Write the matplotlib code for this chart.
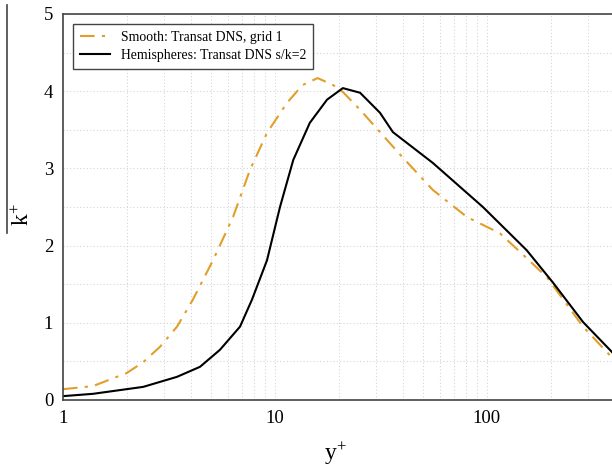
import matplotlib
matplotlib.use("Agg")
import matplotlib.pyplot as plt
from matplotlib.lines import Line2D
from matplotlib.ticker import FixedLocator, NullFormatter, FuncFormatter, MultipleLocator

plt.rcParams['font.family'] = ['Liberation Serif', 'DejaVu Serif']
plt.rcParams['mathtext.fontset'] = 'custom'
plt.rcParams['mathtext.rm'] = 'Liberation Serif'
plt.rcParams['mathtext.it'] = 'Liberation Serif'

smooth_y = [1.0, 1.385, 2.0, 2.39, 2.87, 3.45, 4.10, 5.10, 6.34, 7.62, 9.17, 11.4, 13.5, 15.9,
            18.8, 20.9, 25.2, 31.3, 38.9, 55.6, 80.5, 115, 143, 192, 284, 380, 389]
smooth_k = [0.14, 0.18, 0.35, 0.49, 0.69, 0.95, 1.30, 1.81, 2.37, 2.98, 3.46, 3.85, 4.08, 4.17,
            4.08, 3.99, 3.76, 3.47, 3.18, 2.72, 2.37, 2.16, 1.92, 1.59, 0.95, 0.58, 0.54]

hemi_y = [1.0, 1.385, 2.39, 3.45, 4.43, 5.5, 6.84, 7.79, 9.17, 10.56, 12.2, 14.6, 17.6, 20.9,
          25.2, 31.3, 36.0, 55.6, 95.7, 154, 205, 284, 380, 389]
hemi_k = [0.05, 0.08, 0.17, 0.30, 0.43, 0.65, 0.95, 1.30, 1.81, 2.50, 3.11, 3.59, 3.89, 4.04,
          3.98, 3.72, 3.47, 3.07, 2.50, 1.94, 1.52, 1.01, 0.65, 0.62]

labels = ['Smooth: Transat DNS, grid 1', 'Hemispheres: Transat DNS s/k=2']
x_ticks = [1, 10, 100]
y_ticks = [0, 1, 2, 3, 4, 5]

fig = plt.figure(figsize=(6.12, 4.66), dpi=100)
ax = fig.add_axes([63/612, 66/466, (612-63)/612, (400-14)/466])

ax.plot(smooth_y, smooth_k, color='#E39E2A', lw=1.5, linestyle=(0, (7, 3.5, 1.5, 3.5)), label=labels[0])
ax.plot(hemi_y, hemi_k, color='black', lw=1.5, label=labels[1])

ax.set_xscale('log')
ax.set_xlim(1, 389)
ax.set_ylim(0, 5)
ax.xaxis.set_major_locator(FixedLocator(x_ticks))
ax.xaxis.set_major_formatter(FuncFormatter(lambda v, p: f"{int(v)}"))
ax.xaxis.set_minor_formatter(NullFormatter())
ax.yaxis.set_major_locator(FixedLocator(y_ticks))
ax.yaxis.set_minor_locator(MultipleLocator(0.5))
ax.tick_params(which='both', length=0, labelsize=13.5, pad=7)
ax.grid(which='both', color='#d5d5d5', linestyle=(0, (1, 2)), lw=0.8)
ax.set_axisbelow(True)
for s in ['left', 'bottom', 'top']:
    ax.spines[s].set_color('#444444')
    ax.spines[s].set_linewidth(1.2)
ax.spines['right'].set_visible(False)

ax.set_xlabel(r'$\mathrm{y}^{+}$', fontsize=17)
ax.xaxis.set_label_coords((335-63)/(612-63), -0.105)
ax.set_ylabel(r'$\mathrm{k}^{+}$', fontsize=17)
ax.yaxis.set_label_coords(-0.052, 0.48)
fig.add_artist(Line2D([7/612, 7/612], [1-5/466, 1-233/466], color='#444444', lw=1.2))

leg = ax.legend(loc='upper left', fontsize=9.9, fancybox=False, edgecolor='#444444',
                framealpha=1, borderaxespad=0.7, handlelength=2.2, borderpad=0.5, labelspacing=0.4)
leg.get_frame().set_linewidth(1.0)

fig.savefig('out.png', dpi=100)
